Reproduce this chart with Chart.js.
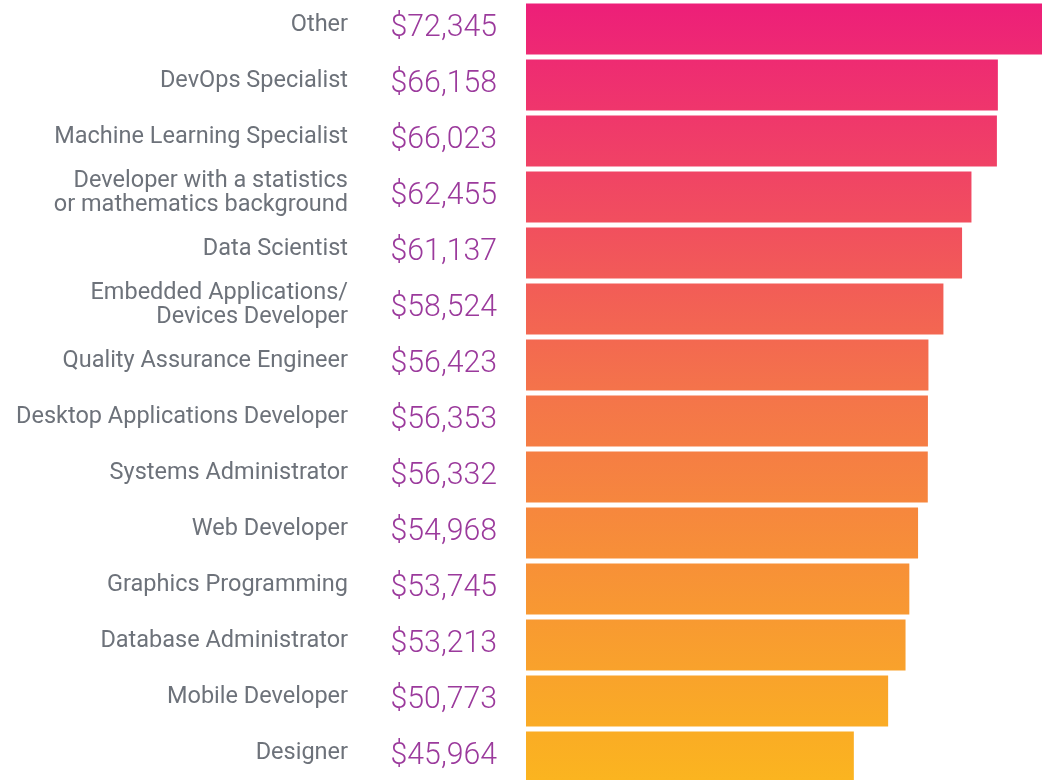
<!DOCTYPE html>
<html>
<head>
<meta charset="utf-8">
<script src="https://cdn.jsdelivr.net/npm/chart.js@4"></script>
<style>
  html, body { margin: 0; padding: 0; background: #fff; overflow: hidden; }
  #wrap { position: relative; width: 1042px; height: 786px; }
</style>
</head>
<body>
<div id="wrap"><canvas id="salaryChart"></canvas></div>
<script>
// roles, top to bottom
var roles = [
  'Other',
  'DevOps Specialist',
  'Machine Learning Specialist',
  ['Developer with a statistics', 'or mathematics background'],
  'Data Scientist',
  ['Embedded Applications/', 'Devices Developer'],
  'Quality Assurance Engineer',
  'Desktop Applications Developer',
  'Systems Administrator',
  'Web Developer',
  'Graphics Programming',
  'Database Administrator',
  'Mobile Developer',
  'Designer'
];
var salaries = [72345, 66158, 66023, 62455, 61137, 58524, 56423, 56353, 56332, 54968, 53745, 53213, 50773, 45964];

// salary text left of each bar, a bit condensed like the original
var valueLabels = {
  id: 'valueLabels',
  afterDatasetsDraw: function (chart) {
    var ctx = chart.ctx;
    var meta = chart.getDatasetMeta(0);
    var right = chart.chartArea.left - 29;
    var sx = 0.945;
    ctx.save();
    ctx.font = '300 32px Roboto';
    ctx.fillStyle = '#9b3a9c';
    ctx.textAlign = 'right';
    ctx.textBaseline = 'alphabetic';
    ctx.scale(sx, 1);
    meta.data.forEach(function (bar, i) {
      ctx.fillText('$' + salaries[i].toLocaleString('en-US'), right / sx, bar.y + 7);
    });
    ctx.restore();
  }
};

var ctx = document.getElementById('salaryChart').getContext('2d');
new Chart(ctx, {
  type: 'bar',
  data: {
    labels: roles,
    datasets: [{
      data: salaries,
      backgroundColor: function (c) {
        var area = c.chart.chartArea;
        if (!area) return '#ee2a70';
        var g = c.chart.ctx.createLinearGradient(0, area.top, 0, area.bottom);
        g.addColorStop(0, '#ed1e79');
        g.addColorStop(0.5, '#f4744a');
        g.addColorStop(1, '#fbb51f');
        return g;
      },
      borderWidth: 0,
      barPercentage: 0.91,
      categoryPercentage: 1
    }]
  },
  options: {
    indexAxis: 'y',
    responsive: true,
    maintainAspectRatio: false,
    animation: false,
    layout: { padding: { top: 1, right: 0, bottom: 1, left: 0 } },
    scales: {
      x: {
        display: false,
        min: 0,
        max: 72345
      },
      y: {
        grid: { display: false },
        border: { display: false },
        afterFit: function (scale) {
          scale.width = 526;
          scale.paddingTop = 0;
          scale.paddingBottom = 0;
        },
        ticks: {
          padding: 170,
          labelOffset: -4,
          color: '#6d727a',
          font: { family: 'Roboto', size: 23.5, lineHeight: 1.0 },
          crossAlign: 'near'
        }
      }
    },
    plugins: {
      legend: { display: false },
      tooltip: { enabled: false }
    }
  },
  plugins: [valueLabels]
});
</script>
</body>
</html>
